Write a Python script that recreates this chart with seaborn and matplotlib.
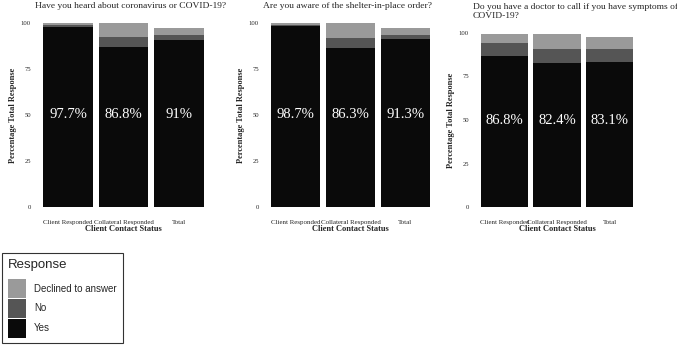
import numpy as np
import pandas as pd
import matplotlib
matplotlib.use("Agg")
import matplotlib.pyplot as plt
import seaborn as sns
from matplotlib.patches import Patch

sns.set_style("white")
plt.rcParams['font.family'] = ['Liberation Serif', 'DejaVu Serif']

groups = ["Client Responded", "Collateral Responded", "Total"]
responses = ["Declined to answer", "No", "Yes"]
colors = {"Yes": "#0a0a0a", "No": "#555555", "Declined to answer": "#9a9a9a"}

titles = ["Have you heard about coronavirus or COVID-19?",
          "Are you aware of the shelter-in-place order?",
          "Do you have a doctor to call if you have symptoms of\nCOVID-19?"]

# percentages per question, per group
yes_pct = [[97.7, 86.8, 91.0], [98.7, 86.3, 91.3], [86.8, 82.4, 83.1]]
no_pct = [[1.3, 5.7, 2.5], [0.5, 5.5, 2.3], [7.2, 8.0, 7.5]]
declined_pct = [[1.0, 7.5, 4.0], [0.8, 8.2, 4.0], [5.5, 9.0, 7.0]]
yes_labels = [["97.7%", "86.8%", "91%"], ["98.7%", "86.3%", "91.3%"], ["86.8%", "82.4%", "83.1%"]]

# axes positions in pixels: left, right, top, bottom
W, H = 677, 348
boxes = [(35, 212, 14, 216), (263, 438, 14, 216), (473, 641, 24, 216)]

fig = plt.figure(figsize=(W / 100, H / 100), dpi=100)

for i in range(3):
    l, r, t, b = boxes[i]
    ax = fig.add_axes([l / W, 1 - b / H, (r - l) / W, (b - t) / H])
    df = pd.DataFrame({"group": groups,
                       "Yes": yes_pct[i], "No": no_pct[i],
                       "Declined to answer": declined_pct[i]})
    df["top_yes"] = df["Yes"]
    df["top_no"] = df["Yes"] + df["No"]
    df["top_dec"] = df["top_no"] + df["Declined to answer"]
    for col, resp in [("top_dec", "Declined to answer"), ("top_no", "No"), ("top_yes", "Yes")]:
        sns.barplot(data=df, x="group", y=col, color=colors[resp], width=0.9,
                    saturation=1, ax=ax, edgecolor="none", errorbar=None)
    for j, lab in enumerate(yes_labels[i]):
        ax.text(j, 50, lab, color="white", ha="center", va="center", fontsize=10.5)
    ax.set_xlim(-0.6, 2.6)
    ax.set_ylim(-5, 105)
    ax.set_yticks([0, 25, 50, 75, 100])
    ax.tick_params(axis="both", length=2, width=0.5, color="#333333", labelsize=4.8, pad=1)
    ax.tick_params(axis="x", labelsize=5)
    for s in ax.spines.values():
        s.set_visible(False)
    ax.set_xlabel("Client Contact Status", fontsize=6, fontweight="bold", labelpad=0)
    ax.set_ylabel("Percentage Total Response", fontsize=6, fontweight="bold", labelpad=3)
    ax.set_title(titles[i], loc="left", fontsize=6.8, pad=4)

handles = [Patch(facecolor=colors[r], edgecolor="none") for r in responses]
leg = fig.legend(handles, responses, loc="upper left", bbox_to_anchor=(2 / W, 1 - 253 / H),
                 borderaxespad=0, title="Response", frameon=True, fancybox=False, borderpad=0.6,
                 handlelength=1.9, handleheight=2.6, labelspacing=0.1, handletextpad=0.8,
                 prop={"family": "Liberation Sans", "size": 7},
                 title_fontproperties={"family": "Liberation Sans", "size": 9.5})
leg._legend_box.align = "left"
leg._legend_box.sep = 6
leg.get_frame().set_edgecolor("black")
leg.get_frame().set_linewidth(0.8)

fig.savefig("out.png", dpi=100)
